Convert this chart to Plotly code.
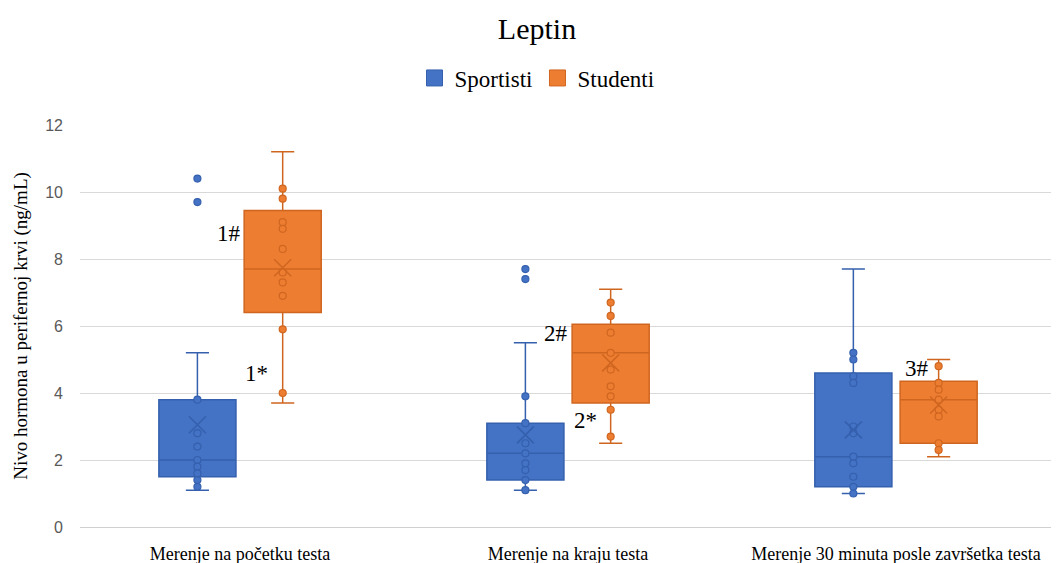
import plotly.graph_objects as go

categories = ["Merenje na početku testa", "Merenje na kraju testa", "Merenje 30 minuta posle završetka testa"]
series_names = ["Sportisti", "Studenti"]

# Box statistics
sport_q1 = [1.5, 1.4, 1.2]
sport_median = [2.0, 2.2, 2.1]
sport_q3 = [3.8, 3.1, 4.6]
sport_low = [1.1, 1.1, 1.0]
sport_high = [5.2, 5.5, 7.7]
sport_mean = [3.05, 2.75, 2.9]

stud_q1 = [6.4, 3.7, 2.5]
stud_median = [7.7, 5.2, 3.8]
stud_q3 = [9.45, 6.05, 4.35]
stud_low = [3.7, 2.5, 2.1]
stud_high = [11.2, 7.1, 5.0]
stud_mean = [7.74, 4.9, 3.64]

# Individual points
sport_points = [
    [10.4, 9.7, 3.8, 2.8, 2.4, 2.0, 1.8, 1.6, 1.4, 1.2],
    [7.7, 7.4, 3.9, 3.1, 2.5, 2.2, 1.9, 1.7, 1.4, 1.1],
    [5.2, 5.0, 4.5, 4.3, 3.0, 2.8, 2.1, 1.9, 1.5, 1.2, 1.0],
]
stud_points = [
    [10.1, 9.8, 9.1, 8.9, 8.3, 7.6, 7.3, 6.9, 5.9, 4.0],
    [6.7, 6.3, 5.8, 5.2, 4.7, 4.2, 3.9, 3.5, 2.7],
    [4.8, 4.3, 4.1, 3.8, 3.5, 3.3, 2.5, 2.3],
]

# Significance labels
sig_labels = ["1#", "1*", "2#", "2*", "3#"]
sig_pos = [(-0.034, 8.75), (0.049, 4.57), (0.963, 5.79), (1.052, 3.19), (2.064, 4.72)]

y_ticks = [0, 2, 4, 6, 8, 10, 12]

BLUE = "#4472C4"
BLUE_D = "#3560AE"
ORANGE = "#ED7D31"
ORANGE_D = "#CF6620"
OFFSET = 0.13
BOXW = 0.235
SERIF = "Liberation Serif"

# page body has an 8px margin; figure coordinates are shifted accordingly
W, H = 1051, 555

fig = go.Figure()

specs = [
    (series_names[0], -OFFSET, BLUE, BLUE_D, sport_q1, sport_median, sport_q3, sport_low, sport_high, sport_mean, sport_points),
    (series_names[1], OFFSET, ORANGE, ORANGE_D, stud_q1, stud_median, stud_q3, stud_low, stud_high, stud_mean, stud_points),
]

for name, off, col, dcol, q1, med, q3, lo, hi, mn, pts in specs:
    xs = [i + off for i in range(len(categories))]
    fig.add_trace(go.Box(
        x=xs, q1=q1, median=med, q3=q3, lowerfence=lo, upperfence=hi,
        width=BOXW, whiskerwidth=0.3, boxpoints=False,
        fillcolor=col, line=dict(color=dcol, width=1.5),
        showlegend=False, hoverinfo="skip",
    ))
    px, py = [], []
    for i, vals in enumerate(pts):
        px += [i + off] * len(vals)
        py += vals
    fig.add_trace(go.Scatter(
        x=px, y=py, mode="markers",
        marker=dict(size=7, color=col, line=dict(color=dcol, width=1.2)),
        showlegend=False, hoverinfo="skip",
    ))
    fig.add_trace(go.Scatter(
        x=xs, y=mn, mode="markers",
        marker=dict(symbol="x-thin-open", size=17, color=dcol, line=dict(color=dcol, width=1.5)),
        showlegend=False, hoverinfo="skip",
    ))
    fig.add_trace(go.Scatter(
        x=[None], y=[None], mode="markers", name=name,
        marker=dict(symbol="square", size=18, color=col, line=dict(color=dcol, width=1)),
    ))

for lab, (ax, ay) in zip(sig_labels, sig_pos):
    fig.add_annotation(x=ax, y=ay, text=lab, showarrow=False,
                       font=dict(family=SERIF, size=23, color="black"))

fig.update_layout(
    width=W, height=H,
    margin=dict(l=72, r=0, t=117, b=36),
    paper_bgcolor="white", plot_bgcolor="white",
    title=dict(text="Leptin", x=529 / W, xanchor="center", xref="container",
               y=1 - 20 / H, yanchor="middle", yref="container",
               font=dict(family=SERIF, size=30, color="black")),
    legend=dict(orientation="h", x=(529 - 72) / 979, xanchor="center",
                y=1 + (117 - 70) / 402, yanchor="middle",
                font=dict(family=SERIF, size=23, color="black"),
                itemwidth=30, tracegroupgap=0),
    showlegend=True,
)
fig.update_xaxes(
    range=[-0.488, 2.497], tickvals=[0, 1, 2], ticktext=categories,
    showgrid=False, zeroline=False, showline=True, linecolor="#d0d0d0", linewidth=1,
    ticks="", ticklabelstandoff=10, tickfont=dict(family=SERIF, size=18, color="black"),
)
fig.update_yaxes(
    range=[0, 12], tickvals=y_ticks, showgrid=True, gridcolor="#d9d9d9", gridwidth=1,
    zeroline=False, showline=False, ticks="", ticklabelstandoff=16,
    tickfont=dict(family="Liberation Sans", size=16, color="#595959"),
    title=dict(text="Nivo hormona u perifernoj krvi (ng/mL)", standoff=12,
               font=dict(family=SERIF, size=19, color="black")),
)

fig.write_html("out.html")
